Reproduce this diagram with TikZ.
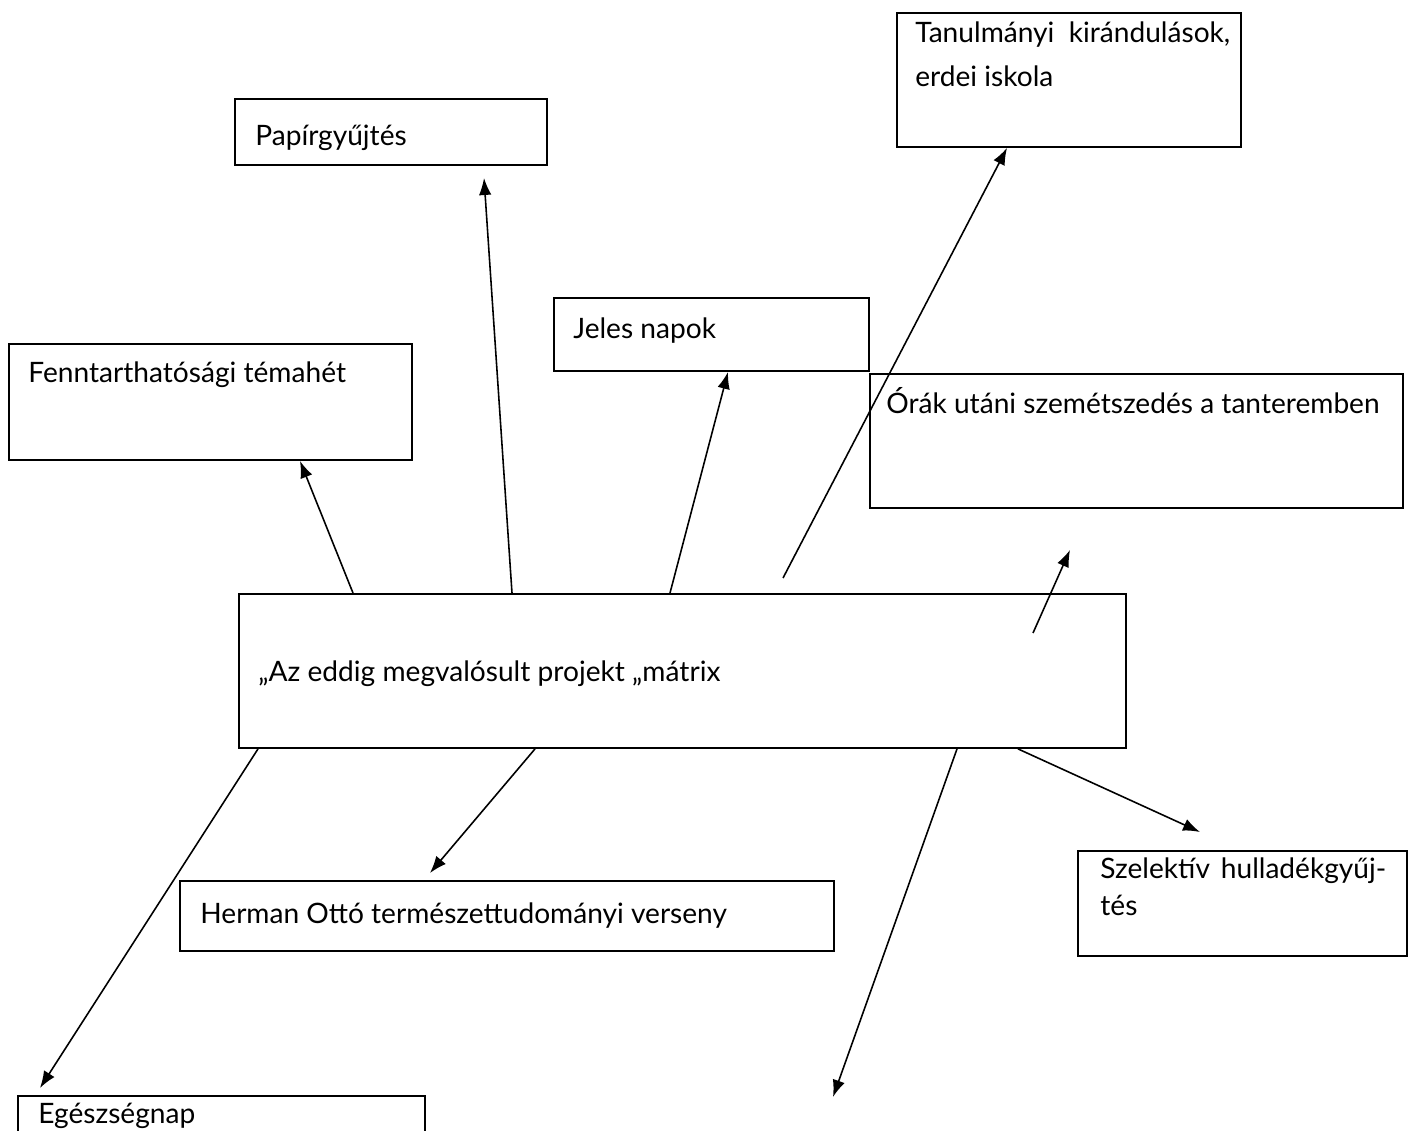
\documentclass[tikz,border=0pt]{standalone}
\usepackage{fontspec}
\setmainfont{Lato}
\usetikzlibrary{arrows.meta, calc}

\begin{document}
\begin{tikzpicture}[x=0.02cm, y=-0.02cm]
\useasboundingbox (0,0) rectangle (1408,1131);

\begin{scope}[
    every node/.style={rectangle,draw=black,line width=1.1pt,fill=white,anchor=north west,inner sep=0pt}]
    \node (tanul) at (896, 12) [minimum width=6.88cm, minimum height=2.68cm] {};
    \node (papir) at (234, 98) [minimum width=6.24cm, minimum height=1.32cm] {};
    \node (jeles) at (553, 297) [minimum width=6.30cm, minimum height=1.46cm] {};
    \node (fenn) at (8, 343) [minimum width=8.06cm, minimum height=2.32cm] {};
    \node (orak) at (869, 373) [minimum width=10.66cm, minimum height=2.68cm] {};

    % % center
    \node (main) at (238, 593) [minimum width=17.74cm, minimum height=3.08cm] {};

    % % lower row
    \node (herman) at (179, 880) [minimum width=13.08cm, minimum height=1.40cm] {};
    \node (szel) at (1077, 850) [minimum width=6.58cm, minimum height=2.10cm] {};
    \node (egesz) at (17, 1095) [minimum width=8.14cm, minimum height=1.20cm] {};
\end{scope}

\begin{scope}[
    every node/.style={inner sep=0pt,anchor=base west,align=left,font=\fontsize{16}{25.5}\selectfont}]
    \node (tanultxt) at (915, 21) [anchor=north west] {Tanulmányi\ \ kirándulások,\\erdei iskola};
    \node (papirtxt) at (255, 146) {Papírgyűjtés};
    \node (jelestxt) at (573, 338) {Jeles napok};
    \node (fenntxt) at (28, 382) {Fenntarthatósági témahét};
    \node (oraktxt) at (886, 413) {Órák utáni szemétszedés a tanteremben};
    \node (maintxt) at (258, 681) {„Az eddig megvalósult projekt „mátrix};
    \node (hermantxt) at (200, 923) {Herman Ottó természettudományi verseny};
    \node (szeltxt) at (1100, 857) [anchor=north west, text width=5.72cm,
        font=\fontsize{16}{21.5}\selectfont] {Szelektív\hfill hulladékgyűj-\\tés};
    \node (egesztxt) at (38, 1123) {Egészségnap};
\end{scope}

% % free ends
\coordinate (papirtip) at (484, 178);
\coordinate (tanulfrom) at (783, 578);
\coordinate (orakfrom) at ($(main.north west)+(795,40)$);
\coordinate (oraktip) at ($(orak.south west)+(201,41)$);
\coordinate (downtip) at (833, 1097);

\begin{scope}[>={Latex[length=3.4mm,width=2.5mm]},
              every edge/.style={draw=black,line width=0.9pt}]
    \path [->] ($(main.north west)+(115,0)$) edge ($(fenn.south west)+(292,0)$);
    \path [->] ($(main.north west)+(274,0)$) edge (papirtip);
    \path [->] ($(main.north west)+(432,0)$) edge ($(jeles.south west)+(175,0)$);
    \path [->] (tanulfrom) edge ($(tanul.south west)+(111,0)$);
    \path [->] (orakfrom) edge (oraktip);

    \path [->] ($(main.south west)+(20,0)$) edge ($(egesz.north west)+(23,-7)$);
    \path [->] ($(main.south west)+(297,0)$) edge ($(herman.north west)+(251,-7)$);
    \path [->] ($(main.south west)+(719,0)$) edge (downtip);
    \path [->] ($(main.south west)+(780,0)$) edge ($(szel.north west)+(123,-18)$);
\end{scope}
\end{tikzpicture}
\end{document}
